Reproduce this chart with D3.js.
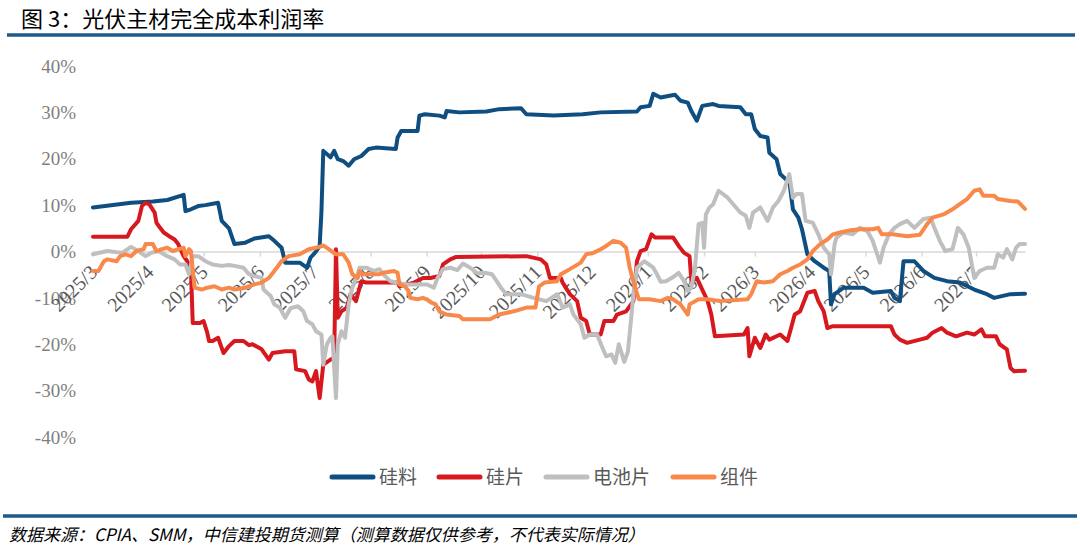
<!DOCTYPE html>
<html lang="zh">
<head>
<meta charset="UTF-8">
<title>光伏主材完全成本利润率</title>
<script src="https://d3js.org/d3.v7.min.js"></script>
<style>
  html, body { margin: 0; padding: 0; background: #fff; }
  svg { display: block; }
  .title { font-family: "Noto Sans CJK SC", sans-serif; font-size: 22px; fill: #000; }
  .source { font-family: "Noto Sans CJK SC", sans-serif; font-size: 17px; font-style: italic; fill: #000; }
  .ylab { font-family: "Liberation Serif", serif; font-size: 19px; fill: #7f7f7f; }
  .xlab { font-family: "Liberation Serif", serif; font-size: 20px; fill: #595959; }
  .legend text { font-family: "Noto Sans CJK SC", sans-serif; font-size: 19px; fill: #595959; }
  .series { fill: none; stroke-width: 4px; stroke-linejoin: round; stroke-linecap: round; }
</style>
</head>
<body>
<svg width="1080" height="551"></svg>

<script>
// series names and colours (legend order)
const seriesNames = ["硅料", "硅片", "电池片", "组件"];
const seriesColors = ["#0f4e80", "#d7191f", "#bfbfbf", "#f8894a"];
const yTicks = [-40, -30, -20, -10, 0, 10, 20, 30, 40];

// profit margin, %
const silicon = [
  ["2025-03-01", 9.5], ["2025-03-22", 10.5], ["2025-04-03", 10.8], ["2025-04-11", 11.1],
  ["2025-04-20", 12.2], ["2025-04-21", 8.7], ["2025-04-24", 9.1], ["2025-04-28", 9.8],
  ["2025-05-02", 10.0], ["2025-05-09", 10.5], ["2025-05-11", 6.6], ["2025-05-15", 5.0],
  ["2025-05-18", 1.6], ["2025-05-24", 1.9], ["2025-05-29", 2.8], ["2025-06-06", 3.3],
  ["2025-06-09", 2.3], ["2025-06-13", 0.8], ["2025-06-15", -2.4], ["2025-06-23", -2.4],
  ["2025-06-27", -3.5], ["2025-06-29", -1.3], ["2025-07-02", 0.0], ["2025-07-04", 1.2],
  ["2025-07-05", 8.7], ["2025-07-06", 21.7], ["2025-07-10", 20.3], ["2025-07-12", 21.7],
  ["2025-07-14", 19.9], ["2025-07-17", 19.5], ["2025-07-20", 18.5], ["2025-07-23", 19.9],
  ["2025-07-27", 20.6], ["2025-07-31", 22.1], ["2025-08-04", 22.4], ["2025-08-15", 22.1],
  ["2025-08-16", 24.6], ["2025-08-18", 26.0], ["2025-08-27", 26.0], ["2025-08-28", 29.3],
  ["2025-08-31", 29.6], ["2025-09-08", 29.3], ["2025-09-11", 28.9], ["2025-09-12", 30.3],
  ["2025-09-19", 30.0], ["2025-10-04", 30.2], ["2025-10-11", 30.7], ["2025-10-23", 30.9],
  ["2025-10-26", 29.6], ["2025-11-10", 29.3], ["2025-11-26", 29.6], ["2025-12-06", 30.0],
  ["2025-12-26", 30.2], ["2025-12-28", 31.1], ["2026-01-02", 31.4], ["2026-01-04", 34.0],
  ["2026-01-08", 33.2], ["2026-01-13", 33.6], ["2026-01-16", 33.8], ["2026-01-19", 32.5],
  ["2026-01-23", 32.1], ["2026-01-25", 30.3], ["2026-01-28", 28.2], ["2026-01-31", 31.4],
  ["2026-02-06", 31.8], ["2026-02-09", 31.4], ["2026-02-21", 31.1], ["2026-02-24", 29.6],
  ["2026-02-27", 29.6], ["2026-03-01", 26.4], ["2026-03-04", 24.9], ["2026-03-08", 24.6],
  ["2026-03-09", 21.3], ["2026-03-13", 19.9], ["2026-03-15", 16.7], ["2026-03-18", 15.6],
  ["2026-03-20", 15.2], ["2026-03-22", 9.1], ["2026-03-25", 7.3], ["2026-03-27", 4.8],
  ["2026-03-30", -0.6], ["2026-04-03", -2.1], ["2026-04-08", -3.5], ["2026-04-11", -4.2],
  ["2026-04-12", -11.4], ["2026-04-14", -9.2], ["2026-04-19", -7.8], ["2026-04-30", -7.8],
  ["2026-05-05", -8.9], ["2026-05-15", -8.5], ["2026-05-17", -10.0], ["2026-05-20", -10.7],
  ["2026-05-22", -2.1], ["2026-05-28", -2.1], ["2026-06-02", -4.2], ["2026-06-08", -5.7],
  ["2026-06-15", -6.4], ["2026-06-22", -6.7], ["2026-06-30", -8.2], ["2026-07-07", -9.2],
  ["2026-07-11", -10.0], ["2026-07-20", -9.2], ["2026-07-28", -9.1]
];

const wafer = [
  ["2025-03-01", 3.2], ["2025-03-20", 3.2], ["2025-03-22", 4.8], ["2025-03-26", 6.6],
  ["2025-03-28", 9.8], ["2025-03-30", 10.5], ["2025-04-01", 10.2], ["2025-04-04", 8.4],
  ["2025-04-05", 6.2], ["2025-04-07", 5.1], ["2025-04-09", 4.1], ["2025-04-12", 3.3],
  ["2025-04-15", 2.6], ["2025-04-17", 1.6], ["2025-04-20", -1.0], ["2025-04-22", -2.1],
  ["2025-04-24", -3.8], ["2025-04-25", -15.4], ["2025-04-29", -15.4], ["2025-05-01", -15.0],
  ["2025-05-03", -17.5], ["2025-05-04", -19.3], ["2025-05-06", -19.3], ["2025-05-09", -18.6],
  ["2025-05-12", -21.9], ["2025-05-15", -20.4], ["2025-05-18", -19.3], ["2025-05-23", -19.3],
  ["2025-05-26", -20.2], ["2025-05-28", -20.0], ["2025-06-02", -21.1], ["2025-06-06", -23.3],
  ["2025-06-08", -21.9], ["2025-06-15", -21.5], ["2025-06-20", -21.5], ["2025-06-21", -25.4],
  ["2025-06-26", -25.8], ["2025-06-28", -27.6], ["2025-06-30", -28.0], ["2025-07-02", -25.8],
  ["2025-07-04", -31.6], ["2025-07-06", -24.4], ["2025-07-10", -23.3], ["2025-07-12", -22.9],
  ["2025-07-13", 0.5], ["2025-07-14", -14.3], ["2025-07-16", -12.9], ["2025-07-19", -12.1],
  ["2025-07-21", -9.2], ["2025-07-24", -10.7], ["2025-07-26", -7.8], ["2025-07-27", -6.4],
  ["2025-07-30", -6.7], ["2025-08-16", -6.7], ["2025-08-17", -7.5], ["2025-08-21", -7.1],
  ["2025-08-25", -6.7], ["2025-08-30", -5.7], ["2025-09-03", -5.7], ["2025-09-08", -5.3],
  ["2025-09-10", -2.8], ["2025-09-14", -1.7], ["2025-09-17", -1.2], ["2025-10-26", -1.0],
  ["2025-11-03", -1.7], ["2025-11-06", -2.8], ["2025-11-08", -5.7], ["2025-11-14", -5.7],
  ["2025-11-15", -6.7], ["2025-11-19", -9.2], ["2025-11-23", -10.7], ["2025-11-25", -14.3],
  ["2025-11-28", -15.0], ["2025-11-30", -17.9], ["2025-12-06", -17.9], ["2025-12-08", -15.0],
  ["2025-12-13", -15.0], ["2025-12-15", -13.6], ["2025-12-20", -12.9], ["2025-12-24", -10.7],
  ["2025-12-26", -2.1], ["2025-12-28", 0.1], ["2025-12-31", 0.5], ["2026-01-03", 3.7],
  ["2026-01-05", 3.0], ["2026-01-15", 3.0], ["2026-01-18", 1.2], ["2026-01-21", -0.3],
  ["2026-01-24", -1.0], ["2026-01-25", -6.4], ["2026-01-28", -5.7], ["2026-01-31", -8.2],
  ["2026-02-03", -10.7], ["2026-02-05", -13.6], ["2026-02-07", -18.3], ["2026-02-23", -17.9],
  ["2026-02-25", -16.5], ["2026-02-26", -22.6], ["2026-03-01", -18.6], ["2026-03-04", -20.8],
  ["2026-03-07", -17.9], ["2026-03-09", -19.0], ["2026-03-15", -17.9], ["2026-03-19", -19.3],
  ["2026-03-21", -16.5], ["2026-03-23", -13.6], ["2026-03-26", -12.9], ["2026-03-30", -8.9],
  ["2026-04-03", -8.5], ["2026-04-05", -10.7], ["2026-04-08", -12.9], ["2026-04-10", -16.5],
  ["2026-04-13", -16.1], ["2026-05-15", -16.1], ["2026-05-17", -17.9], ["2026-05-20", -19.0],
  ["2026-05-24", -19.7], ["2026-05-31", -19.0], ["2026-06-04", -18.6], ["2026-06-07", -17.5],
  ["2026-06-12", -16.5], ["2026-06-15", -17.5], ["2026-06-20", -18.3], ["2026-06-26", -17.5],
  ["2026-06-30", -17.9], ["2026-07-04", -16.8], ["2026-07-06", -18.3], ["2026-07-12", -18.3],
  ["2026-07-14", -20.0], ["2026-07-18", -21.1], ["2026-07-20", -25.1], ["2026-07-22", -25.8],
  ["2026-07-28", -25.7]
];

const cell = [
  ["2025-03-01", -0.6], ["2025-03-09", 0.1], ["2025-03-17", -0.3], ["2025-03-22", 1.0],
  ["2025-03-26", 0.1], ["2025-03-30", -1.0], ["2025-04-02", -0.3], ["2025-04-06", 0.1],
  ["2025-04-11", -1.0], ["2025-04-15", -1.7], ["2025-04-18", -2.8], ["2025-04-21", -2.8],
  ["2025-04-23", -4.9], ["2025-04-25", -1.0], ["2025-04-28", -1.0], ["2025-05-02", -2.1],
  ["2025-05-06", -2.8], ["2025-05-11", -3.1], ["2025-05-15", -2.9], ["2025-05-18", -3.1],
  ["2025-05-23", -3.5], ["2025-05-26", -4.9], ["2025-05-29", -5.3], ["2025-06-02", -5.7],
  ["2025-06-03", -8.2], ["2025-06-07", -9.6], ["2025-06-09", -11.4], ["2025-06-12", -12.1],
  ["2025-06-15", -14.3], ["2025-06-18", -12.2], ["2025-06-22", -11.8], ["2025-06-25", -12.9],
  ["2025-06-27", -15.0], ["2025-06-30", -15.7], ["2025-07-02", -17.2], ["2025-07-05", -17.9],
  ["2025-07-06", -24.4], ["2025-07-08", -20.0], ["2025-07-10", -18.6], ["2025-07-11", -18.3],
  ["2025-07-13", -31.6], ["2025-07-14", -20.0], ["2025-07-16", -17.2], ["2025-07-18", -18.6],
  ["2025-07-20", -11.4], ["2025-07-22", -7.8], ["2025-07-25", -4.9], ["2025-07-26", -3.5],
  ["2025-07-30", -3.5], ["2025-08-03", -4.2], ["2025-08-06", -3.8], ["2025-08-08", -4.9],
  ["2025-08-12", -6.4], ["2025-08-21", -7.1], ["2025-09-01", -7.1], ["2025-09-05", -7.8],
  ["2025-09-07", -5.7], ["2025-09-10", -3.8], ["2025-09-14", -3.5], ["2025-09-18", -4.0],
  ["2025-09-21", -2.6], ["2025-09-25", -3.5], ["2025-09-29", -4.7], ["2025-10-03", -4.6],
  ["2025-10-07", -4.9], ["2025-10-12", -7.8], ["2025-10-15", -9.2], ["2025-10-23", -9.2],
  ["2025-10-30", -10.0], ["2025-11-06", -10.7], ["2025-11-12", -9.2], ["2025-11-15", -12.1],
  ["2025-11-19", -11.4], ["2025-11-21", -13.6], ["2025-11-25", -15.7], ["2025-11-27", -18.6],
  ["2025-11-30", -17.9], ["2025-12-04", -17.9], ["2025-12-07", -20.8], ["2025-12-09", -22.6],
  ["2025-12-12", -22.2], ["2025-12-14", -24.0], ["2025-12-16", -20.0], ["2025-12-19", -23.8],
  ["2025-12-21", -21.6], ["2025-12-23", -13.6], ["2025-12-24", -9.2], ["2025-12-26", -3.5],
  ["2025-12-30", -2.1], ["2026-01-04", -3.5], ["2026-01-06", -4.9], ["2026-01-08", -6.5],
  ["2026-01-11", -6.4], ["2026-01-15", -5.5], ["2026-01-18", -4.6], ["2026-01-21", -6.4],
  ["2026-01-23", -8.5], ["2026-01-25", -7.8], ["2026-01-27", -3.5], ["2026-01-29", 5.9],
  ["2026-01-31", 6.2], ["2026-02-01", 0.8], ["2026-02-02", 8.0], ["2026-02-04", 9.5],
  ["2026-02-06", 10.2], ["2026-02-09", 13.1], ["2026-02-14", 11.6], ["2026-02-21", 8.4],
  ["2026-02-24", 7.7], ["2026-02-26", 5.1], ["2026-02-28", 8.4], ["2026-03-04", 9.5],
  ["2026-03-08", 6.6], ["2026-03-11", 9.5], ["2026-03-14", 10.9], ["2026-03-17", 13.1],
  ["2026-03-20", 16.7], ["2026-03-22", 11.6], ["2026-03-24", 12.4], ["2026-03-27", 12.4],
  ["2026-03-29", 6.6], ["2026-04-02", 6.2], ["2026-04-05", 3.7], ["2026-04-08", 0.8],
  ["2026-04-11", -0.6], ["2026-04-12", -4.9], ["2026-04-14", 1.6], ["2026-04-15", 3.0],
  ["2026-04-19", 4.1], ["2026-04-24", 3.7], ["2026-04-28", 5.1], ["2026-05-02", 4.4],
  ["2026-05-05", 2.3], ["2026-05-09", -2.4], ["2026-05-11", 0.8], ["2026-05-14", 3.7],
  ["2026-05-17", 5.1], ["2026-05-20", 5.9], ["2026-05-24", 6.6], ["2026-05-28", 5.1],
  ["2026-06-02", 7.0], ["2026-06-06", 7.3], ["2026-06-08", 5.1], ["2026-06-11", 2.3],
  ["2026-06-14", 0.1], ["2026-06-18", 0.5], ["2026-06-21", 5.1], ["2026-06-24", 3.7],
  ["2026-06-27", 0.8], ["2026-06-30", -5.7], ["2026-07-03", -4.2], ["2026-07-07", -3.5],
  ["2026-07-11", -3.5], ["2026-07-13", -0.6], ["2026-07-16", -1.3], ["2026-07-18", 0.5],
  ["2026-07-21", -1.7], ["2026-07-23", 0.8], ["2026-07-25", 1.6], ["2026-07-28", 1.6]
];

const module = [
  ["2025-03-01", -4.2], ["2025-03-04", -4.2], ["2025-03-07", -2.1], ["2025-03-09", -1.7],
  ["2025-03-14", -2.1], ["2025-03-16", -1.0], ["2025-03-19", -0.6], ["2025-03-22", -1.0],
  ["2025-03-25", 0.1], ["2025-03-29", 0.5], ["2025-03-30", 1.6], ["2025-04-03", 1.6],
  ["2025-04-05", 0.1], ["2025-04-08", 0.5], ["2025-04-11", 0.8], ["2025-04-14", 0.1],
  ["2025-04-17", 0.5], ["2025-04-20", 0.8], ["2025-04-21", -1.0], ["2025-04-23", 0.5],
  ["2025-04-24", 0.1], ["2025-04-26", -7.8], ["2025-04-30", -8.2], ["2025-05-03", -7.8],
  ["2025-05-07", -7.5], ["2025-05-11", -8.2], ["2025-05-15", -7.8], ["2025-05-18", -8.2],
  ["2025-05-24", -7.8], ["2025-05-29", -7.1], ["2025-06-02", -6.7], ["2025-06-06", -5.7],
  ["2025-06-09", -4.2], ["2025-06-13", -2.1], ["2025-06-17", -1.0], ["2025-06-23", -0.6],
  ["2025-06-28", 0.5], ["2025-07-02", 0.8], ["2025-07-06", 1.3], ["2025-07-09", 0.5],
  ["2025-07-13", -0.6], ["2025-07-17", -0.6], ["2025-07-20", -2.4], ["2025-07-22", -4.9],
  ["2025-07-25", -5.7], ["2025-07-26", -4.2], ["2025-07-28", -4.9], ["2025-08-06", -4.9],
  ["2025-08-08", -4.6], ["2025-08-14", -4.2], ["2025-08-16", -4.6], ["2025-08-17", -7.1],
  ["2025-08-20", -7.5], ["2025-08-22", -8.5], ["2025-08-23", -10.0], ["2025-08-27", -10.3],
  ["2025-08-30", -10.0], ["2025-09-01", -10.3], ["2025-09-04", -11.1], ["2025-09-06", -11.4],
  ["2025-09-08", -12.9], ["2025-09-12", -13.6], ["2025-09-19", -13.9], ["2025-09-21", -14.6],
  ["2025-10-06", -14.6], ["2025-10-11", -13.6], ["2025-10-19", -12.9], ["2025-10-26", -12.1],
  ["2025-10-31", -12.1], ["2025-11-02", -7.5], ["2025-11-05", -6.7], ["2025-11-12", -6.4],
  ["2025-11-14", -4.9], ["2025-11-19", -3.8], ["2025-11-25", -2.4], ["2025-11-28", -0.6],
  ["2025-12-02", -0.3], ["2025-12-06", 0.5], ["2025-12-09", 1.2], ["2025-12-13", 2.3],
  ["2025-12-17", 1.9], ["2025-12-20", 0.8], ["2025-12-22", -3.5], ["2025-12-24", -6.4],
  ["2025-12-27", -10.3], ["2026-01-02", -10.3], ["2026-01-08", -10.7], ["2026-01-12", -10.0],
  ["2026-01-15", -10.3], ["2026-01-19", -11.4], ["2026-01-23", -13.6], ["2026-01-24", -11.4],
  ["2026-01-29", -10.3], ["2026-02-03", -10.3], ["2026-02-10", -10.7], ["2026-02-25", -10.3],
  ["2026-02-27", -9.2], ["2026-03-02", -6.4], ["2026-03-06", -6.7], ["2026-03-11", -6.4],
  ["2026-03-15", -4.9], ["2026-03-19", -4.2], ["2026-03-22", -3.5], ["2026-03-26", -2.8],
  ["2026-03-30", -1.7], ["2026-04-02", 0.1], ["2026-04-06", 1.6], ["2026-04-10", 2.6],
  ["2026-04-13", 3.7], ["2026-04-17", 4.1], ["2026-04-23", 4.6], ["2026-04-28", 4.8],
  ["2026-05-05", 4.8], ["2026-05-08", 5.1], ["2026-05-10", 3.7], ["2026-05-16", 3.7],
  ["2026-05-24", 3.3], ["2026-05-31", 3.6], ["2026-06-04", 5.9], ["2026-06-07", 7.3],
  ["2026-06-13", 8.0], ["2026-06-18", 9.1], ["2026-06-22", 10.2], ["2026-06-26", 11.3],
  ["2026-06-30", 13.1], ["2026-07-03", 13.4], ["2026-07-05", 12.0], ["2026-07-11", 12.0],
  ["2026-07-13", 11.3], ["2026-07-20", 10.9], ["2026-07-24", 10.8], ["2026-07-28", 9.2]
];

const seriesData = [silicon, wafer, cell, module];

const parse = d3.timeParse("%Y-%m-%d");
const svg = d3.select("svg");

const x = d3.scaleTime()
  .domain([parse("2025-03-01"), parse("2026-07-28")])
  .range([93, 1025]);
const y = d3.scaleLinear().domain([-40, 40]).range([437, 66]);

// title + rules
svg.append("text").attr("class", "title").attr("x", 21).attr("y", 27)
  .text("图 3：光伏主材完全成本利润率");
svg.append("line").attr("x1", 7).attr("x2", 1075).attr("y1", 35).attr("y2", 35)
  .attr("stroke", "#1d5a8a").attr("stroke-width", 3.5);
svg.append("line").attr("x1", 3).attr("x2", 1077).attr("y1", 516).attr("y2", 516)
  .attr("stroke", "#1d5a8a").attr("stroke-width", 3.5);
svg.append("text").attr("class", "source").attr("x", 9).attr("y", 541)
  .text("数据来源：CPIA、SMM，中信建投期货测算（测算数据仅供参考，不代表实际情况）");

// y labels
svg.append("g").selectAll("text").data(yTicks).join("text")
  .attr("class", "ylab")
  .attr("x", 76).attr("y", d => y(d)).attr("dy", "0.35em")
  .attr("text-anchor", "end")
  .text(d => d + "%");

// x axis along zero
const months = d3.timeMonth.range(parse("2025-03-01"), parse("2026-07-02"));
const xAxis = svg.append("g").attr("transform", `translate(0,${y(0)})`)
  .call(d3.axisBottom(x).tickValues(months).tickSize(5).tickSizeOuter(0).tickFormat(d3.timeFormat("%Y/%-m")));
xAxis.select(".domain").attr("stroke", "#d9d9d9").attr("stroke-width", 1.5);
xAxis.selectAll(".tick line").attr("stroke", "#d9d9d9").attr("stroke-width", 1.5);
xAxis.selectAll(".tick text")
  .attr("class", "xlab")
  .attr("font-family", null).attr("font-size", null).attr("fill", null)
  .attr("text-anchor", "end")
  .attr("x", 0).attr("y", 0).attr("dy", null)
  .attr("transform", "translate(5,22) rotate(-45)");

// lines
const line = d3.line().x(d => x(parse(d[0]))).y(d => y(d[1]));
svg.append("g").selectAll("path").data(seriesData).join("path")
  .attr("class", "series")
  .attr("stroke", (d, i) => seriesColors[i])
  .attr("d", line);

// legend
const legendX = [330, 437, 544, 671];
const lg = svg.append("g").attr("class", "legend").selectAll("g").data(seriesNames).join("g")
  .attr("transform", (d, i) => `translate(${legendX[i]},477)`);
lg.append("line").attr("x1", 2).attr("x2", 43).attr("y1", 0).attr("y2", 0)
  .attr("stroke", (d, i) => seriesColors[i]).attr("stroke-width", 5).attr("stroke-linecap", "round");
lg.append("text").attr("x", 49).attr("dy", "0.36em").text(d => d);
</script>
</body>
</html>
